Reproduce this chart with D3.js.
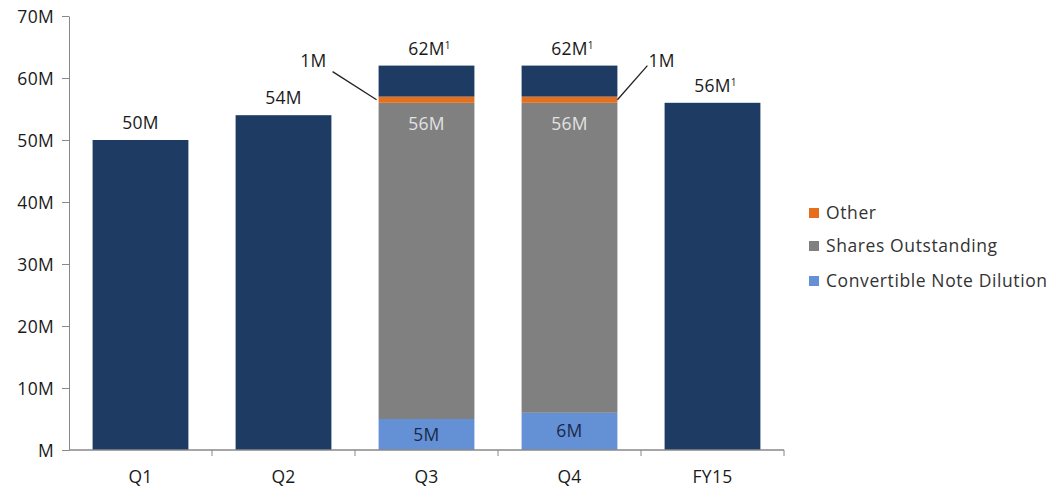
<!DOCTYPE html>
<html>
<head>
<meta charset="utf-8">
<script src="https://cdn.jsdelivr.net/npm/d3@7"></script>
<style>
  html, body { margin: 0; padding: 0; background: #fff; }
  text { font-family: "Open Sans", "Noto Sans", sans-serif; }
</style>
</head>
<body>
<svg id="chart" width="1056" height="493"></svg>
<script>
// Share counts by period (millions)
const categories = ["Q1", "Q2", "Q3", "Q4", "FY15"];
const totals = [50, 54, 62, 62, 56];
const totalNotes = ["", "", "1", "1", "1"];
// Stacked breakdown for Q3 / Q4 (cumulative tops, millions); null = not stacked
const convertibleDilution = [null, null, 5, 6, null];
const sharesOutstandingTop = [null, null, 56, 56, null];
const otherTop = [null, null, 57, 57, null];
const yTicks = [0, 10, 20, 30, 40, 50, 60, 70];
const legendItems = ["Other", "Shares Outstanding", "Convertible Note Dilution"];

const colors = {
  total: "#1d3b63",
  other: "#e56f1c",
  shares: "#808080",
  convertible: "#6490d6"
};

const FS = "17.5px";
const svg = d3.select("#chart");
const margin = { left: 69, right: 272, top: 16, bottom: 43 };
const W = 1056, H = 493;

const x = d3.scaleBand()
  .domain(categories)
  .range([margin.left, W - margin.right])
  .paddingInner(0.33)
  .paddingOuter(0.165);

const y = d3.scaleLinear()
  .domain([0, 70])
  .range([H - margin.bottom, margin.top]);

const fmt = v => (v === 0 ? "" : v) + "M";

// Y axis
const yAxis = svg.append("g")
  .attr("transform", `translate(${margin.left},0)`)
  .call(d3.axisLeft(y).tickValues(yTicks).tickFormat(fmt).tickSize(7).tickSizeOuter(0));
yAxis.select(".domain").attr("stroke", "#888");
yAxis.selectAll(".tick line").attr("stroke", "#888");
yAxis.selectAll(".tick text")
  .attr("x", -15)
  .attr("dy", "0.36em")
  .attr("fill", "#1a1a1a")
  .style("font-size", FS)
  .style("letter-spacing", "0.3px");

// Bars
const g = svg.append("g");
categories.forEach((c, i) => {
  const x0 = x(c), bw = x.bandwidth();
  if (convertibleDilution[i] == null) {
    g.append("rect")
      .attr("x", x0).attr("width", bw)
      .attr("y", y(totals[i])).attr("height", y(0) - y(totals[i]))
      .attr("fill", colors.total);
  } else {
    const segs = [
      { lo: 0, hi: convertibleDilution[i], fill: colors.convertible },
      { lo: convertibleDilution[i], hi: sharesOutstandingTop[i], fill: colors.shares },
      { lo: sharesOutstandingTop[i], hi: otherTop[i], fill: colors.other },
      { lo: otherTop[i], hi: totals[i], fill: colors.total }
    ];
    segs.forEach(s => {
      g.append("rect")
        .attr("x", x0).attr("width", bw)
        .attr("y", y(s.hi)).attr("height", y(s.lo) - y(s.hi))
        .attr("fill", s.fill);
    });
    // Segment labels
    g.append("text")
      .attr("x", x0 + bw / 2)
      .attr("y", y(convertibleDilution[i] / 2) + 6)
      .attr("text-anchor", "middle")
      .attr("fill", "#1a2a48")
      .style("font-size", FS)
      .style("letter-spacing", "0.3px")
      .text(fmt(convertibleDilution[i]));
    g.append("text")
      .attr("x", x0 + bw / 2)
      .attr("y", y(sharesOutstandingTop[i]) + 27)
      .attr("text-anchor", "middle")
      .attr("fill", "#e2e2e2")
      .style("font-size", FS)
      .style("letter-spacing", "0.3px")
      .text(fmt(sharesOutstandingTop[i]));
    // Leader line to "Other" label
    const otherVal = otherTop[i] - sharesOutstandingTop[i];
    const yMid = y((otherTop[i] + sharesOutstandingTop[i]) / 2);
    const leftSide = i === 2;
    const edge = leftSide ? x0 - 2 : x0 + bw;
    const tip = leftSide ? edge - 44 : edge + 30;
    g.append("line")
      .attr("x1", edge).attr("y1", yMid)
      .attr("x2", tip).attr("y2", y(62) + (leftSide ? 6 : 0))
      .attr("stroke", "#222").attr("stroke-width", 1.3);
    g.append("text")
      .attr("x", leftSide ? tip - 6 : tip + 1)
      .attr("y", y(62) + 1)
      .attr("text-anchor", leftSide ? "end" : "start")
      .attr("fill", "#1a1a1a")
      .style("font-size", FS)
      .style("letter-spacing", "0.3px")
      .text(fmt(otherVal));
  }
  // Total label
  const t = g.append("text")
    .attr("x", x0 + bw / 2 + (totalNotes[i] ? 3 : 0))
    .attr("y", y(totals[i]) - 11)
    .attr("text-anchor", "middle")
    .attr("fill", "#1a1a1a")
    .style("font-size", FS)
    .style("letter-spacing", "0.3px");
  t.append("tspan").text(fmt(totals[i]));
  if (totalNotes[i]) {
    t.append("tspan").attr("dy", -6).style("font-size", "10px").text(totalNotes[i]);
  }
});

// X axis
const xAxis = svg.append("g")
  .attr("transform", `translate(0,${y(0)})`);
xAxis.append("line")
  .attr("x1", margin.left).attr("x2", W - margin.right)
  .attr("y1", 0).attr("y2", 0)
  .attr("stroke", "#888").attr("stroke-width", 1.5);
const step = x.step();
categories.forEach((c, i) => {
  const bx = x(c) + x.bandwidth() / 2 + step / 2;
  xAxis.append("line")
    .attr("x1", bx).attr("x2", bx).attr("y1", 0).attr("y2", 6)
    .attr("stroke", "#888");
  xAxis.append("text")
    .attr("x", x(c) + x.bandwidth() / 2)
    .attr("y", 33)
    .attr("text-anchor", "middle")
    .attr("fill", "#1a1a1a")
    .style("font-size", FS)
    .style("letter-spacing", "0.3px")
    .text(c);
});

// Legend
const legendColors = [colors.other, colors.shares, colors.convertible];
const legendY = [213, 246, 281];
const legend = svg.append("g");
legendItems.forEach((name, i) => {
  legend.append("rect")
    .attr("x", 809).attr("y", legendY[i] - 5)
    .attr("width", 10).attr("height", 10)
    .attr("fill", legendColors[i]);
  legend.append("text")
    .attr("x", 826).attr("y", legendY[i] + 6)
    .attr("fill", "#333")
    .style("font-size", FS)
    .style("letter-spacing", "0.6px")
    .text(name);
});
</script>
</body>
</html>
